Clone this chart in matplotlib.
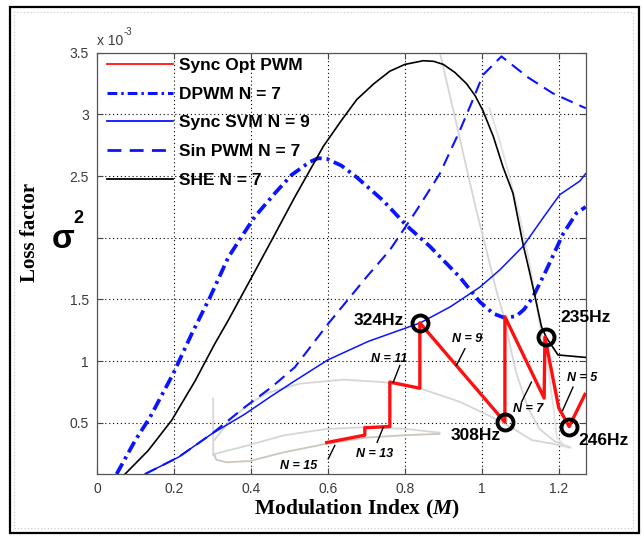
import matplotlib
matplotlib.use("Agg")
import matplotlib.pyplot as plt
from matplotlib.lines import Line2D
from matplotlib.patches import Rectangle

# Loss factor curves (values in units of 1e-3)
m_she = [0.073, 0.133, 0.194, 0.255, 0.306, 0.341, 0.402, 0.454, 0.514, 0.588, 0.635, 0.675,
         0.72, 0.761, 0.80, 0.848, 0.875, 0.90, 0.93, 0.96, 0.983, 1.003, 1.03, 1.055, 1.081,
         1.107, 1.125, 1.142, 1.155, 1.168, 1.183, 1.198, 1.27]
she = [0.085, 0.275, 0.52, 0.84, 1.14, 1.33, 1.68, 1.98, 2.33, 2.74, 2.95, 3.12,
       3.25, 3.35, 3.405, 3.435, 3.43, 3.405, 3.34, 3.25, 3.15, 3.03, 2.82, 2.575, 2.36,
       1.95, 1.71, 1.47, 1.28, 1.19, 1.12, 1.05, 1.03]

m_dpwm = [0.051, 0.099, 0.138, 0.198, 0.246, 0.294, 0.341, 0.376, 0.41, 0.462, 0.506, 0.553,
          0.575, 0.597, 0.635, 0.675, 0.744, 0.804, 0.865, 0.943, 0.995, 1.03, 1.06, 1.09,
          1.11, 1.133, 1.168, 1.211, 1.246, 1.27]
dpwm = [0.085, 0.356, 0.546, 0.898, 1.22, 1.52, 1.84, 2.01, 2.17, 2.36, 2.51, 2.615,
        2.645, 2.64, 2.585, 2.49, 2.30, 2.10, 1.93, 1.68, 1.48, 1.385, 1.35, 1.365,
        1.42, 1.52, 1.74, 2.03, 2.20, 2.25]

m_svm = [0.125, 0.211, 0.298, 0.384, 0.45, 0.514, 0.6, 0.705, 0.84, 0.918, 0.995, 1.047,
         1.107, 1.168, 1.203, 1.255, 1.27]
svm = [0.085, 0.22, 0.41, 0.57, 0.71, 0.84, 1.01, 1.16, 1.31, 1.44, 1.60, 1.74,
       1.93, 2.20, 2.35, 2.46, 2.52]

m_sin = [0.125, 0.211, 0.298, 0.384, 0.454, 0.514, 0.6, 0.7, 0.761, 0.83, 0.891, 0.943,
         0.977, 1.003, 1.051, 1.12, 1.185, 1.27]
sin_pwm = [0.085, 0.22, 0.41, 0.627, 0.79, 0.95, 1.30, 1.68, 1.90, 2.22, 2.52, 2.87,
           3.12, 3.32, 3.47, 3.30, 3.17, 3.05]

m_opt = [0.597, 0.696, 0.696, 0.761, 0.761, 0.839, 0.839, 1.06, 1.06, 1.162, 1.164, 1.2,
         1.227, 1.268]
opt = [0.34, 0.40, 0.46, 0.47, 0.83, 0.78, 1.31, 0.505, 1.36, 0.70, 1.195, 0.62,
       0.47, 0.73]

# background (grey) curves
m_grey_a = [0.305, 0.354, 0.40, 0.441, 0.527, 0.64, 0.744, 0.839, 0.943, 1.024, 1.078, 1.13,
            1.184, 1.227]
grey_a = [0.36, 0.55, 0.66, 0.74, 0.817, 0.85, 0.83, 0.78, 0.67, 0.55, 0.46, 0.36, 0.33, 0.30]
m_grey_b = [0.302, 0.302, 0.306, 0.384, 0.484, 0.596, 0.70, 0.804, 0.89]
grey_b = [0.695, 0.235, 0.248, 0.31, 0.397, 0.45, 0.465, 0.45, 0.42]
m_grey_c = [0.306, 0.31, 0.337, 0.397, 0.484, 0.596, 0.70, 0.804, 0.89]
grey_c = [0.235, 0.20, 0.18, 0.19, 0.26, 0.33, 0.38, 0.40, 0.41]
m_grey_d = [0.891, 0.93, 0.96, 0.986, 1.008, 1.038, 1.06, 1.075, 1.09, 1.12, 1.15, 1.19, 1.23]
grey_d = [3.5, 2.98, 2.57, 2.22, 1.95, 1.57, 1.33, 1.10, 0.90, 0.62, 0.45, 0.35, 0.30]
m_grey_e = [1.02, 1.05, 1.08, 1.10, 1.125, 1.138, 1.15, 1.17, 1.185, 1.195, 1.22]
grey_e = [3.05, 2.75, 2.40, 2.15, 1.78, 1.55, 1.30, 1.00, 0.65, 0.38, 0.30]

# marked operating points
m_marks = [0.839, 1.06, 1.166, 1.227]
marks = [1.31, 0.505, 1.195, 0.47]
mark_labels = ["324Hz", "308Hz", "235Hz", "246Hz"]
mark_text_xy = [(0.797, 1.326), (0.919, 0.401), (1.203, 1.357), (1.25, 0.354)]
mark_ha = ["right", "left", "left", "left"]

# pulse number annotations: label position, leader line start/end
n_labels = ["N = 15", "N = 13", "N = 11", "N = 9", "N = 7", "N = 5"]
n_text_xy = [(0.523, 0.147), (0.721, 0.248), (0.759, 1.016), (0.962, 1.182), (1.12, 0.614),
             (1.261, 0.866)]
n_lead_from = [(0.618, 0.316), (0.744, 0.464), (0.787, 0.965), (0.956, 1.10), (1.129, 0.83),
               (1.237, 0.789)]
n_lead_to = [(0.601, 0.208), (0.728, 0.342), (0.77, 0.83), (0.934, 0.965), (1.103, 0.667),
             (1.21, 0.60)]

legend_labels = ["Sync Opt PWM", "DPWM N = 7", "Sync SVM N = 9", "Sin PWM N = 7", "SHE N = 7"]

plt.rcParams["mathtext.fontset"] = "custom"
plt.rcParams["mathtext.bf"] = "Liberation Serif:bold"
plt.rcParams["mathtext.it"] = "Liberation Serif:italic:bold"
plt.rcParams["mathtext.rm"] = "Liberation Serif:bold"

W, H = 642, 536
fig = plt.figure(figsize=(6.42, 5.36), dpi=100)
ax = fig.add_axes([97 / W, 1 - 474 / H, 488.7 / W, 421.3 / H])

grey = "#d6d6d6"
ax.plot(m_grey_a, grey_a, color=grey, lw=1.3, zorder=1)
ax.plot(m_grey_b, grey_b, color=grey, lw=1.3, zorder=1)
ax.plot(m_grey_c, grey_c, color="#cdc6bd", lw=1.3, zorder=1)
ax.plot(m_grey_d, grey_d, color=grey, lw=1.3, zorder=1)
ax.plot(m_grey_e, grey_e, color="#e2e2e2", lw=1.3, zorder=1)

blue = "#0a14ff"
ax.plot(m_svm, svm, color=blue, lw=1.1, zorder=3)
ax.plot(m_sin, sin_pwm, color=blue, lw=1.5, dashes=(6, 3.5), zorder=3)
ax.plot(m_dpwm, dpwm, color=blue, lw=2.7, dashes=(3.2, 1.3, 0.8, 1.3), zorder=3)
ax.plot(m_she, she, color="black", lw=1.2, zorder=4)
ax.plot(m_opt, opt, color="#ff1010", lw=2.4, zorder=5)
ax.plot(m_marks, marks, "o", ms=11.5, mfc="none", mec="black", mew=2.8, zorder=6)

for lab, (tx, ty), ha in zip(mark_labels, mark_text_xy, mark_ha):
    ax.text(tx, ty, lab, ha=ha, va="center", fontsize=12.5, fontweight="bold",
            family="Liberation Sans", clip_on=False, zorder=7)

for lab, (tx, ty), p0, p1 in zip(n_labels, n_text_xy, n_lead_from, n_lead_to):
    ax.text(tx, ty, lab, ha="center", va="center", fontsize=9, fontweight="bold",
            fontstyle="italic", family="Liberation Sans", zorder=7)
    ax.plot([p0[0], p1[0]], [p0[1], p1[1]], color="black", lw=1.0, zorder=7)

ax.set_xlim(0, 1.27)
ax.set_ylim(0.085, 3.5)
ax.set_xticks([0, 0.2, 0.4, 0.6, 0.8, 1.0, 1.2])
ax.set_xticklabels(["0", "0.2", "0.4", "0.6", "0.8", "1", "1.2"])
ax.set_yticks([0.5, 1.0, 1.5, 2.0, 2.5, 3.0, 3.5])
ax.set_yticklabels(["0.5", "1", "1.5", "", "2.5", "3", "3.5"])
ax.tick_params(direction="in", length=4, width=0.8, top=True, right=True,
               labelsize=10, labelcolor="#3a3a3a", color="#444444", pad=6)
for lbl in ax.get_xticklabels() + ax.get_yticklabels():
    lbl.set_family("Liberation Sans")
for sp in ax.spines.values():
    sp.set_color("#555555")
    sp.set_linewidth(0.9)
ax.grid(True, color="black", linestyle=(0, (1, 2.5)), linewidth=0.8)
ax.set_axisbelow(True)

handles = [
    Line2D([], [], color="#ff1010", lw=1.3),
    Line2D([], [], color=blue, lw=2.2, dashes=(3.2, 1.3, 0.8, 1.3)),
    Line2D([], [], color=blue, lw=1.3),
    Line2D([], [], color=blue, lw=2.0, dashes=(5, 3)),
    Line2D([], [], color="black", lw=1.3),
]
ax.legend(handles, legend_labels, loc="upper left", bbox_to_anchor=(0.02, 0.988),
          frameon=False, handlelength=3.8, handletextpad=0.35, labelspacing=0.78,
          borderpad=0, borderaxespad=0,
          prop={"family": "Liberation Sans", "weight": "bold", "size": 12.5})

# axis labels and exponent placed in figure pixels
fig.text(97 / W, 1 - 41 / H, "x 10", fontsize=10, color="#3a3a3a", family="Liberation Sans",
         ha="left", va="center")
fig.text(124 / W, 1 - 32 / H, "-3", fontsize=7, color="#3a3a3a", family="Liberation Sans",
         ha="left", va="center")
fig.text(30 / W, 1 - 232 / H, "Loss factor", rotation=90, fontsize=15, fontweight="bold",
         family="Liberation Serif", ha="center", va="center")
fig.text(63 / W, 1 - 240 / H, "σ", fontsize=24, fontweight="bold", family="Liberation Sans",
         ha="center", va="center")
fig.text(78 / W, 1 - 219 / H, "2", fontsize=13, fontweight="bold", family="Liberation Sans",
         ha="center", va="center")
fig.text(356.7 / W, 1 - 509 / H, r"$\mathbf{Modulation\ Index\ (}\mathit{M}\mathbf{)}$",
         fontsize=15.5, ha="center", va="center")

# outer frame like the exported figure
fig.patches.append(Rectangle((10 / W, 3 / H), 629 / W, 526 / H, transform=fig.transFigure,
                             fill=False, edgecolor="black", lw=1.6))
fig.patches.append(Rectangle((14 / W, 8 / H), 619 / W, 516 / H, transform=fig.transFigure,
                             fill=False, edgecolor="#c8c8c8", lw=0.8, linestyle=(0, (1, 2))))

fig.savefig("out.png", dpi=100)
